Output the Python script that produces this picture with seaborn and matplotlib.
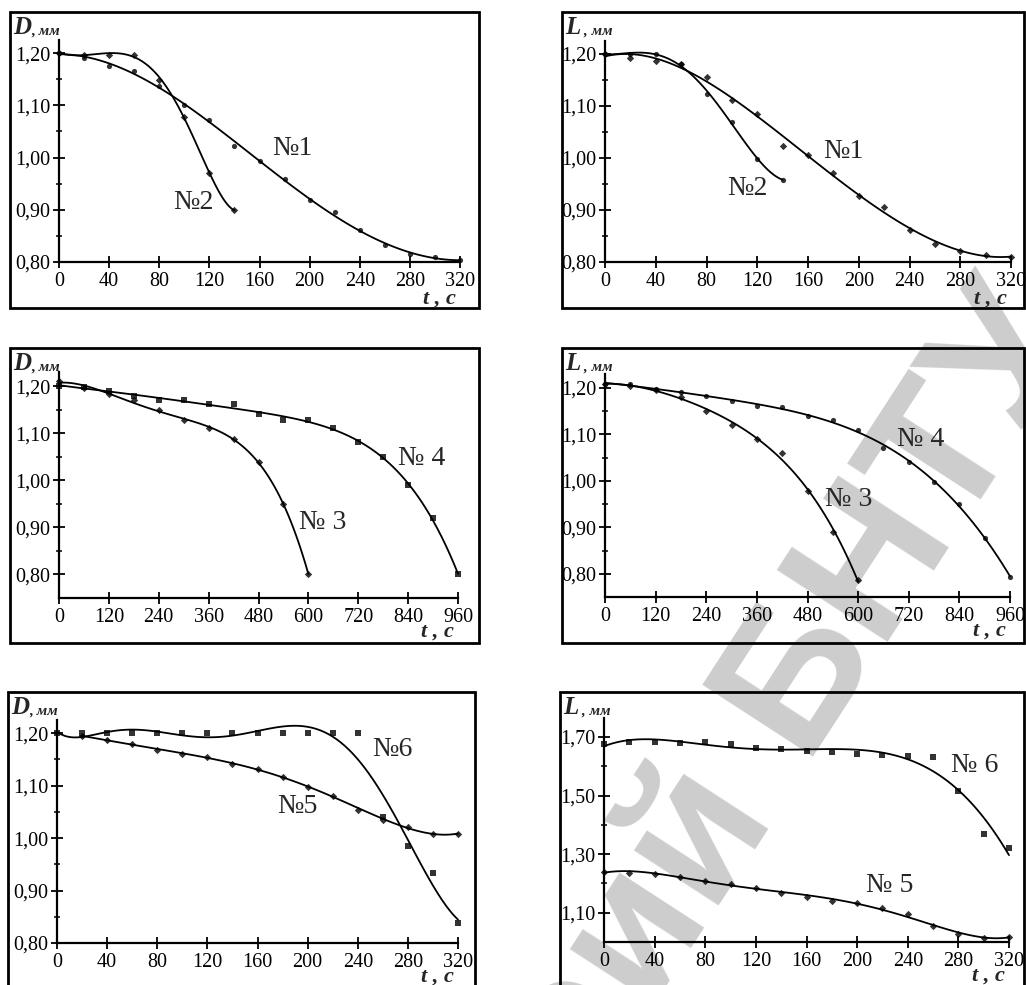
import warnings
import numpy as np
import seaborn as sns
import matplotlib.pyplot as plt
from matplotlib.patches import Rectangle
from matplotlib.ticker import MultipleLocator, FixedLocator, FuncFormatter

warnings.simplefilter('ignore')

# time axes, s
t320 = [0, 20, 40, 60, 80, 100, 120, 140, 160, 180, 200, 220, 240, 260, 280, 300, 320]
t140 = [0, 20, 40, 60, 80, 100, 120, 140]
t600 = [0, 60, 120, 180, 240, 300, 360, 420, 480, 540, 600]
t960 = [0, 60, 120, 180, 240, 300, 360, 420, 480, 540, 600, 660, 720, 780, 840, 900, 960]
t20_320 = [20, 40, 60, 80, 100, 120, 140, 160, 180, 200, 220, 240, 260, 280, 300, 320]

# diameter D, mm
D1 = [1.200, 1.190, 1.176, 1.165, 1.137, 1.101, 1.072, 1.022, 0.993, 0.959, 0.918, 0.895, 0.861, 0.832, 0.816, 0.810, 0.803]
D2 = [1.200, 1.197, 1.197, 1.197, 1.149, 1.078, 0.970, 0.899]
D3 = [1.210, 1.195, 1.184, 1.170, 1.149, 1.127, 1.110, 1.088, 1.039, 0.950, 0.800]
D4 = [1.200, 1.199, 1.190, 1.179, 1.170, 1.170, 1.161, 1.161, 1.140, 1.129, 1.129, 1.110, 1.081, 1.049, 0.989, 0.919, 0.800]
D5 = [1.194, 1.187, 1.180, 1.168, 1.160, 1.154, 1.142, 1.131, 1.117, 1.098, 1.081, 1.054, 1.035, 1.022, 1.008, 1.008]
D6 = [1.200, 1.200, 1.200, 1.200, 1.200, 1.200, 1.200, 1.200, 1.200, 1.200, 1.200, 1.200, 1.200, 1.040, 0.984, 0.933, 0.838]

# length L, mm
L1 = [1.200, 1.192, 1.186, 1.181, 1.156, 1.112, 1.085, 1.024, 1.006, 0.972, 0.926, 0.906, 0.862, 0.835, 0.821, 0.814, 0.810]
L2 = [1.200, 1.200, 1.200, 1.181, 1.123, 1.069, 0.999, 0.958]
L3 = [1.209, 1.204, 1.196, 1.181, 1.151, 1.120, 1.090, 1.060, 0.979, 0.889, 0.787]
L4 = [1.209, 1.208, 1.198, 1.191, 1.182, 1.171, 1.162, 1.160, 1.140, 1.130, 1.110, 1.070, 1.040, 0.998, 0.950, 0.878, 0.793]
L5 = [1.240, 1.237, 1.231, 1.223, 1.209, 1.198, 1.186, 1.168, 1.152, 1.141, 1.132, 1.117, 1.094, 1.055, 1.026, 1.015, 1.018]
L6 = [1.675, 1.683, 1.683, 1.681, 1.683, 1.677, 1.662, 1.658, 1.651, 1.649, 1.643, 1.638, 1.634, 1.632, 1.515, 1.370, 1.322]

sns.set_theme(style="ticks")
plt.rcParams['font.family'] = ['Liberation Serif', 'DejaVu Serif']

W, H = 1026, 985
fig = plt.figure(figsize=(W / 100, H / 100), dpi=100)

def fx(px):
    return px / W

def fy(py):
    return 1 - py / H

# watermark of the scan, behind everything
wm = dict(color='#cdcdcd', fontsize=138, fontweight='bold', family='Liberation Sans',
          rotation=57, rotation_mode='anchor', va='center', zorder=-10)
fig.text(fx(728), fy(778), "Репозиторий", ha='right', **wm)
fig.text(fx(759), fy(730), "БНТУ", ha='left', **wm)

comma = FuncFormatter(lambda v, p: f"{v:.2f}".replace('.', ','))

def panel(box, frame, xlim, xstep, ylim, yticks, yminor, ylab, series, names, xl_off=42):
    L, R, T, B = box
    ax = fig.add_axes([fx(L), fy(B), (R - L) / W, (B - T) / H])
    ax.patch.set_alpha(0)
    for t, v, mk, order in series:
        sns.regplot(x=np.array(t, float), y=np.array(v), order=order, ci=None, ax=ax,
                    color='black', marker=mk, truncate=True,
                    scatter_kws=dict(s=14, clip_on=False, linewidths=0, zorder=4),
                    line_kws=dict(lw=1.3, clip_on=False))
    for txt, x, y in names:
        ax.text(x, y, txt, fontsize=20, ha='center', va='center')
    ax.set_xlim(xlim)
    ax.set_ylim(ylim)
    ax.set_xlabel('')
    ax.set_ylabel('')
    ax.xaxis.set_major_locator(MultipleLocator(xstep))
    ax.yaxis.set_major_locator(FixedLocator(yticks))
    ax.yaxis.set_minor_locator(FixedLocator(yminor))
    ax.yaxis.set_major_formatter(comma)
    for s in ['top', 'right']:
        ax.spines[s].set_visible(False)
    for s in ['left', 'bottom']:
        ax.spines[s].set_linewidth(1.6)
        ax.spines[s].set_color('black')
    ax.tick_params(which='major', direction='inout', length=8, width=1.3,
                   labelsize=14.5, colors='black', pad=2)
    ax.tick_params(which='minor', direction='inout', length=5, width=1.1, colors='black')
    ax.tick_params(axis='x', pad=3)

    # frame around the panel
    fl, ft, fr, fb = frame
    fig.add_artist(Rectangle((fx(fl), fy(fb)), (fr - fl) / W, (fb - ft) / H,
                             transform=fig.transFigure, fill=False,
                             edgecolor='black', lw=2))
    # axis titles
    t1 = fig.text(fx(fl + 3), fy(ft + 22), ylab, fontsize=18, fontweight='bold',
                  style='italic', ha='left', va='baseline')
    ax.annotate(" , мм" if ylab == 'L' else ", мм", xy=(1, 0), xycoords=t1,
                xytext=(0, 1), textcoords='offset points',
                fontsize=11, fontweight='bold', style='italic', va='bottom')
    fig.text(fx(R - 4), fy(B + xl_off), "t , c", fontsize=16, fontweight='bold',
             style='italic', ha='right', va='baseline')
    return ax

yt1 = [0.80, 0.90, 1.00, 1.10, 1.20]
ym1 = [0.85, 0.95, 1.05, 1.15]

panel((59, 460, 40, 262), (10, 12, 479, 308), (0, 320), 40, (0.80, 1.225), yt1, ym1, 'D',
      [(t320, D1, 'o', 5), (t140, D2, 'D', 6)],
      [("№1", 186, 1.018), ("№2", 107, 0.913)])
panel((605, 1011, 41, 262), (562, 12, 1024, 308), (0, 320), 40, (0.80, 1.225), yt1, ym1, 'L',
      [(t320, L1, 'D', 5), (t140, L2, 'o', 4)],
      [("№1", 188, 1.013), ("№2", 112, 0.942)])
panel((59, 458, 372, 598), (10, 348, 479, 643), (0, 960), 120, (0.75, 1.23), yt1, ym1, 'D',
      [(t600, D3, 'D', 4), (t960, D4, 's', 5)],
      [("№ 4", 872, 1.046), ("№ 3", 635, 0.91)], xl_off=39)
panel((605, 1010, 374, 597), (562, 348, 1024, 643), (0, 960), 120, (0.75, 1.23), yt1, ym1, 'L',
      [(t600, L3, 'D', 4), (t960, L4, 'o', 5)],
      [("№ 4", 747, 1.09), ("№ 3", 577, 0.959)], xl_off=39)
panel((57, 458, 720, 943), (8, 692, 475, 1000), (0, 320), 40, (0.80, 1.225), yt1, ym1, 'D',
      [(t20_320, D5, 'D', 5), (t320, D6, 's', 7)],
      [("№6", 268, 1.168), ("№5", 192, 1.06)], xl_off=39)
panel((604, 1009, 718, 942), (560, 692, 1024, 1000), (0, 320), 40, (1.0, 1.765),
      [1.10, 1.30, 1.50, 1.70], [1.20, 1.40, 1.60], 'L',
      [(t320, L5, 'D', 5), (t320, L6, 's', 5)],
      [("№ 6", 293, 1.603), ("№ 5", 226, 1.194)], xl_off=39)

fig.savefig("out.png", dpi=100)
